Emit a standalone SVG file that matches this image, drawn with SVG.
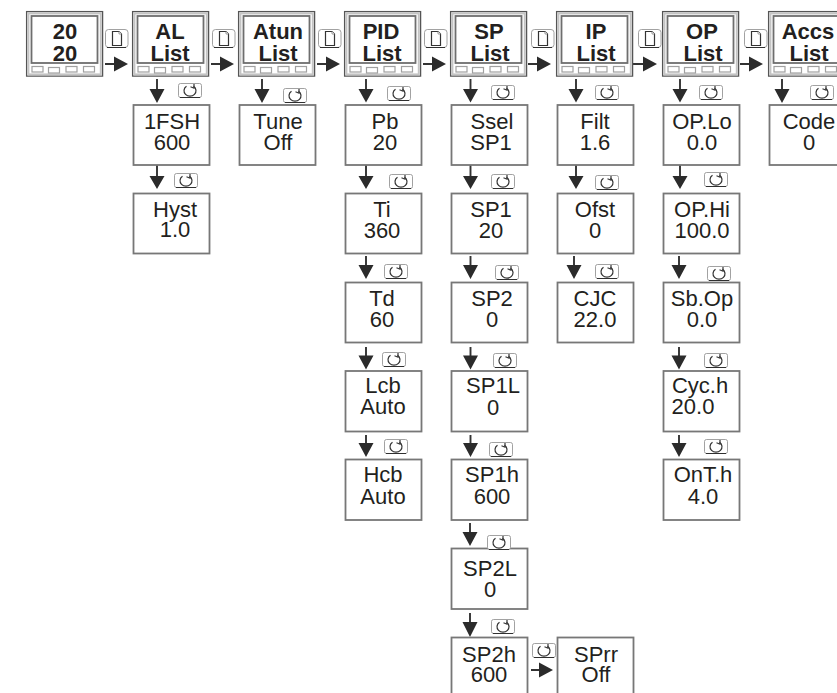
<svg xmlns="http://www.w3.org/2000/svg" width="837" height="693" viewBox="0 0 837 693">
<style>
text{font-family:"Liberation Sans",Arial,sans-serif;font-size:22px;fill:#231f20;text-anchor:middle}
.b{font-weight:bold}
.box{fill:#fff;stroke:#777;stroke-width:1.8}
.outer{fill:#fff;stroke:#555;stroke-width:1.3}
.bez{fill:none;stroke:#c4c4c4;stroke-width:2}
.scr{fill:#fff;stroke:#6e6e6e;stroke-width:1.8}
.btn{fill:#fff;stroke:#a0a0a0;stroke-width:1.2}
.ln{fill:none;stroke:#333;stroke-width:1.9}
.ah{fill:#2b2b2b}
.ic{fill:#fff;stroke:#8a8a8a;stroke-width:.8}
.gl{fill:none;stroke:#333;stroke-width:1.2}
.ul{fill:none;stroke:#222;stroke-width:.9}
</style>
<defs>
<symbol id="head" width="78" height="67" overflow="visible">
<rect class="outer" x=".6" y=".6" width="76" height="64.500"/>
<rect class="bez" x="2.400" y="2.400" width="72.400" height="61"/>
<rect class="scr" x="5.500" y="5" width="66" height="47"/>
<rect class="btn" x="6" y="55.500" width="11" height="5.500"/>
<rect class="btn" x="22.500" y="56.500" width="11" height="5.500"/>
<rect class="btn" x="40" y="55.500" width="11" height="5.500"/>
<rect class="btn" x="57.500" y="55.500" width="11" height="5.500"/>
</symbol>
<symbol id="pg" width="24" height="20" overflow="visible">
<rect class="ic" x=".5" y=".5" width="22.500" height="18" rx="3"/>
<path class="ul" d="M2 18.500H21"/>
<path class="gl" d="M7.500 16.500V2.500H14L16.500 5V16.500Z"/>
<path class="ic" d="M14 2.500V5H16.500"/>
</symbol>
<symbol id="cy" width="24" height="16" overflow="visible">
<rect class="ic" x=".5" y=".5" width="23" height="14" rx="2"/>
<path class="ul" d="M2 14.500H22"/>
<path class="gl" d="M8.500 3.200A6 5.500 0 1 0 15.500 3.200"/>
<path class="gl" d="M16 1V5.200L12.500 3.800"/>
</symbol>
</defs>
<g id="connectors">
<g id="h-arrows">
<path class="ln" d="M105 64H118M211 64H224M317 64H330M423 64H436M528 64H541M633 64H647M740 64H753M531 670H543"/>
<path class="ah" d="M114 56.500v15l14-7.500zM220 56.500v15l14-7.500zM326 56.500v15l14-7.500zM432 56.500v15l14-7.500zM537 56.500v15l14-7.500zM643 56.500v15l14-7.500zM749 56.500v15l14-7.500zM539 662.500v15l14-7.500z"/>
</g>
<g id="v-arrows">
<path class="ln" d="M157 79V92M157 165V179M262 79V92M366 79V92M366 165V179M366 256V268M366 347V358M366 435V446M470.500 79V92M470.500 165V179M470.500 256V268M470.500 347V358M470.500 435V446M470 523V535M470 613V625M576 79V92M576 165V179M574 256V268M680 79V92M680 165V179M679 256V268M679 347V358M679 435V446M782 79V92"/>
<path class="ah" d="M149.500 89h15l-7.500 14zM149.500 176h15l-7.500 13zM254.500 89h15l-7.500 14zM358.500 89h15l-7.500 13.500zM358.500 176h15l-7.500 13zM358.500 265h15l-7.500 14zM358.500 355.500h15l-7.500 14zM358.500 443h15l-7.500 14zM463 89h15l-7.500 13.500zM463 176h15l-7.500 13zM463 265h15l-7.500 14zM463 355.500h15l-7.500 14zM463 443h15l-7.500 14zM462.500 532h15l-7.500 14zM462.500 622h15l-7.500 15zM568.500 89h15l-7.500 13.500zM568.500 176h15l-7.500 13zM566.500 265h15l-7.500 14zM672.500 89h15l-7.500 13.500zM672.500 176h15l-7.500 13zM671.500 265h15l-7.500 14zM671.500 355.500h15l-7.500 14zM671.500 443h15l-7.500 14zM774.500 89h15l-7.500 14z"/>
</g>
</g>
<g id="n2020"><use href="#head" x="26" y="11"/><text class="b" x="65" y="39">20</text><text class="b" x="65" y="61">20</text></g>
<g id="nAL"><use href="#head" x="132" y="11"/><text class="b" x="170" y="39">AL</text><text class="b" x="170" y="61">List</text></g>
<g id="nAtun"><use href="#head" x="238" y="11"/><text class="b" x="278" y="39">Atun</text><text class="b" x="278" y="61">List</text></g>
<g id="nPID"><use href="#head" x="344" y="11"/><text class="b" x="381" y="39">PID</text><text class="b" x="382" y="61">List</text></g>
<g id="nSP"><use href="#head" x="450" y="11"/><text class="b" x="489" y="39">SP</text><text class="b" x="490" y="61">List</text></g>
<g id="nIP"><use href="#head" x="556" y="11"/><text class="b" x="596" y="39">IP</text><text class="b" x="596" y="61">List</text></g>
<g id="nOP"><use href="#head" x="662" y="11"/><text class="b" x="702" y="39">OP</text><text class="b" x="703" y="61">List</text></g>
<g id="nAccs"><use href="#head" x="768" y="11"/><text class="b" x="808" y="39">Accs</text><text class="b" x="809" y="61">List</text></g>
<g id="n1FSH"><rect class="box" x="133.500" y="105" width="76" height="60"/><text x="172" y="129">1FSH</text><text x="172" y="150">600</text></g>
<g id="nHyst"><rect class="box" x="133.500" y="193.500" width="76" height="60"/><text x="175" y="217">Hyst</text><text x="175" y="237">1.0</text></g>
<g id="nTune"><rect class="box" x="239.500" y="105" width="76" height="60"/><text x="278" y="129">Tune</text><text x="278" y="150">Off</text></g>
<g id="nPb"><rect class="box" x="345.500" y="105" width="76" height="60"/><text x="385" y="129">Pb</text><text x="385" y="150">20</text></g>
<g id="nTi"><rect class="box" x="345.500" y="193.500" width="76" height="60"/><text x="382" y="217">Ti</text><text x="382" y="238">360</text></g>
<g id="nTd"><rect class="box" x="345.500" y="282.500" width="76" height="60"/><text x="382" y="306">Td</text><text x="382" y="327">60</text></g>
<g id="nLcb"><rect class="box" x="345.500" y="371" width="76" height="60.500"/><text x="383" y="393">Lcb</text><text x="383" y="414">Auto</text></g>
<g id="nHcb"><rect class="box" x="345.500" y="459.500" width="76" height="60.500"/><text x="383" y="482">Hcb</text><text x="383" y="504">Auto</text></g>
<g id="nSsel"><rect class="box" x="451.500" y="105" width="76" height="60"/><text x="492" y="129">Ssel</text><text x="491" y="150">SP1</text></g>
<g id="nSP1"><rect class="box" x="451.500" y="193.500" width="76" height="60"/><text x="491" y="217">SP1</text><text x="491" y="238">20</text></g>
<g id="nSP2"><rect class="box" x="451.500" y="282.500" width="76" height="60"/><text x="492" y="306">SP2</text><text x="492" y="327">0</text></g>
<g id="nSP1L"><rect class="box" x="451.500" y="371" width="76" height="60.500"/><text x="493" y="393">SP1L</text><text x="493" y="415">0</text></g>
<g id="nSP1h"><rect class="box" x="451.500" y="459.500" width="76" height="60.500"/><text x="492" y="482">SP1h</text><text x="492" y="504">600</text></g>
<g id="nSP2L"><rect class="box" x="451.500" y="548.500" width="76" height="60.500"/><text x="490" y="576">SP2L</text><text x="490" y="597">0</text></g>
<g id="nSP2h"><rect class="box" x="451.500" y="637.500" width="76" height="60"/><text x="489" y="662">SP2h</text><text x="489" y="682">600</text></g>
<g id="nSPrr"><rect class="box" x="557.500" y="637.500" width="76" height="60"/><text x="596" y="662">SPrr</text><text x="596" y="682">Off</text></g>
<g id="nFilt"><rect class="box" x="557.500" y="105" width="76" height="60"/><text x="595" y="129">Filt</text><text x="595" y="150">1.6</text></g>
<g id="nOfst"><rect class="box" x="557.500" y="193.500" width="76" height="60"/><text x="595" y="217">Ofst</text><text x="595" y="238">0</text></g>
<g id="nCJC"><rect class="box" x="557.500" y="282.500" width="76" height="60"/><text x="595" y="306">CJC</text><text x="595" y="327">22.0</text></g>
<g id="nOPLo"><rect class="box" x="663.500" y="105" width="76" height="60"/><text x="702" y="129">OP.Lo</text><text x="702" y="150">0.0</text></g>
<g id="nOPHi"><rect class="box" x="663.500" y="193.500" width="76" height="60"/><text x="702" y="217">OP.Hi</text><text x="702" y="238">100.0</text></g>
<g id="nSbOp"><rect class="box" x="663.500" y="282.500" width="76" height="60"/><text x="702" y="306">Sb.Op</text><text x="702" y="327">0.0</text></g>
<g id="nCych"><rect class="box" x="663.500" y="371" width="76" height="60.500"/><text x="700" y="393">Cyc.h</text><text x="693" y="414">20.0</text></g>
<g id="nOnTh"><rect class="box" x="663.500" y="459.500" width="76" height="60.500"/><text x="703" y="482">OnT.h</text><text x="703" y="504">4.0</text></g>
<g id="nCode"><rect class="box" x="769.500" y="105" width="76" height="60"/><text x="809" y="129">Code</text><text x="809" y="150">0</text></g>
<g id="icons">
<use href="#pg" x="105" y="29"/><use href="#pg" x="212" y="29"/><use href="#pg" x="318" y="29"/><use href="#pg" x="424" y="29"/><use href="#pg" x="531" y="29"/><use href="#pg" x="638" y="29"/><use href="#pg" x="744" y="29"/>
<use href="#cy" x="178" y="83"/><use href="#cy" x="174" y="173"/><use href="#cy" x="283" y="88"/><use href="#cy" x="387" y="86"/><use href="#cy" x="389" y="174"/><use href="#cy" x="384" y="264"/><use href="#cy" x="382" y="352"/><use href="#cy" x="384" y="439"/>
<use href="#cy" x="491" y="85"/><use href="#cy" x="491" y="174"/><use href="#cy" x="495" y="265"/><use href="#cy" x="493" y="353"/><use href="#cy" x="489" y="442"/><use href="#cy" x="487" y="535"/><use href="#cy" x="491" y="619"/><use href="#cy" x="532" y="643"/>
<use href="#cy" x="595" y="85"/><use href="#cy" x="595" y="175"/><use href="#cy" x="595" y="264"/><use href="#cy" x="699" y="85"/><use href="#cy" x="704" y="172"/><use href="#cy" x="707" y="266"/><use href="#cy" x="704" y="353"/><use href="#cy" x="704" y="439"/><use href="#cy" x="810" y="85"/>
</g>
</svg>
